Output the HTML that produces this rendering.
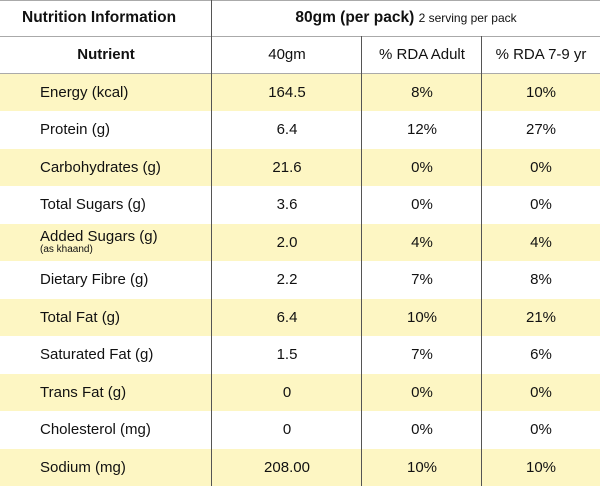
<!DOCTYPE html>
<html><head><style>
body{margin:0;background:#fff;font-family:"Liberation Sans",sans-serif;color:#111;overflow:hidden;}
.w{position:relative;width:600px;height:486px;overflow:hidden;}
.r{position:absolute;left:0;width:600px;height:37px;}
.y{background:#fdf6c3;}
.c{position:absolute;top:0;height:100%;display:flex;align-items:center;font-size:15px;}
.c1{left:40px;}
.c2{left:212px;width:150px;justify-content:center;}
.c3{left:362px;width:120px;justify-content:center;}
.c4{left:482px;width:118px;justify-content:center;}
.v{position:absolute;top:0;width:1px;height:486px;background:#555;}
.h{position:absolute;left:0;width:600px;height:1px;background:#aaa;}
</style></head><body><div class="w">
<div class="h" style="top:0"></div>
<div class="r" style="top:0;height:36px"><div class="c" style="left:22px;font-weight:bold;font-size:15.5px">Nutrition Information</div><div class="c" style="left:212px;width:388px;justify-content:center;font-weight:bold;font-size:15.5px">80gm (per pack)&nbsp;<span style="font-weight:normal;font-size:12px">2 serving per pack</span></div></div>
<div class="h" style="top:36px"></div>
<div class="r" style="top:36px;height:37px"><div class="c" style="left:0;width:212px;justify-content:center;font-weight:bold">Nutrient</div><div class="c c2">40gm</div><div class="c c3">% RDA Adult</div><div class="c c4">% RDA 7-9 yr</div></div>
<div class="h" style="top:73px"></div>
<div class="r y" style="top:74px"><div class="c c1">Energy (kcal)</div><div class="c c2">164.5</div><div class="c c3">8%</div><div class="c c4">10%</div></div>
<div class="r" style="top:111px"><div class="c c1">Protein (g)</div><div class="c c2">6.4</div><div class="c c3">12%</div><div class="c c4">27%</div></div>
<div class="r y" style="top:149px"><div class="c c1">Carbohydrates (g)</div><div class="c c2">21.6</div><div class="c c3">0%</div><div class="c c4">0%</div></div>
<div class="r" style="top:186px"><div class="c c1">Total Sugars (g)</div><div class="c c2">3.6</div><div class="c c3">0%</div><div class="c c4">0%</div></div>
<div class="r y" style="top:224px"><div class="c c1" style="flex-direction:column;align-items:flex-start;justify-content:center;line-height:14px">Added Sugars (g)<span style="font-size:10px;line-height:11px">(as khaand)</span></div><div class="c c2">2.0</div><div class="c c3">4%</div><div class="c c4">4%</div></div>
<div class="r" style="top:261px"><div class="c c1">Dietary Fibre (g)</div><div class="c c2">2.2</div><div class="c c3">7%</div><div class="c c4">8%</div></div>
<div class="r y" style="top:299px"><div class="c c1">Total Fat (g)</div><div class="c c2">6.4</div><div class="c c3">10%</div><div class="c c4">21%</div></div>
<div class="r" style="top:336px"><div class="c c1">Saturated Fat (g)</div><div class="c c2">1.5</div><div class="c c3">7%</div><div class="c c4">6%</div></div>
<div class="r y" style="top:374px"><div class="c c1">Trans Fat (g)</div><div class="c c2">0</div><div class="c c3">0%</div><div class="c c4">0%</div></div>
<div class="r" style="top:411px"><div class="c c1">Cholesterol (mg)</div><div class="c c2">0</div><div class="c c3">0%</div><div class="c c4">0%</div></div>
<div class="r y" style="top:449px"><div class="c c1">Sodium (mg)</div><div class="c c2">208.00</div><div class="c c3">10%</div><div class="c c4">10%</div></div>
<div class="v" style="left:211px"></div>
<div class="v" style="left:361px;top:36px;height:450px"></div>
<div class="v" style="left:481px;top:36px;height:450px"></div>
</div></body></html>
